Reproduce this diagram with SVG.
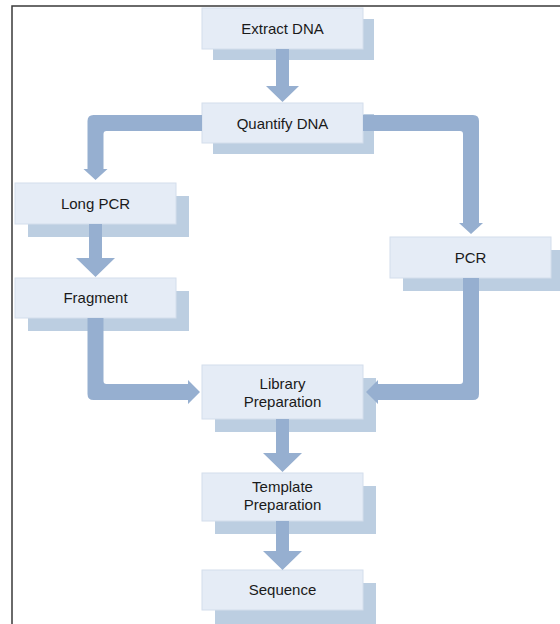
<svg xmlns="http://www.w3.org/2000/svg" width="560" height="624" viewBox="0 0 560 624">
<style>
.box{fill:#e5ecf6;stroke:#d3deec;stroke-width:1}
.sh{fill:#bccee1}
.arr{fill:#96afd0}
.t{font-family:"Liberation Sans",Arial,sans-serif;font-size:15px;fill:#1a1a1a;text-anchor:middle}
.frame{fill:none;stroke:#3a3a3a;stroke-width:1.5}
</style>
<rect width="560" height="624" fill="#ffffff"/>
<path class="frame" d="M12 624 L12 6 L560 6"/>
<g id="n-extract"><rect class="sh" x="213" y="19" width="161" height="41"/><rect class="box" x="202" y="8" width="161" height="41"/><text class="t" x="282.5" y="34">Extract DNA</text></g>
<g id="n-quantify"><rect class="sh" x="213" y="114" width="161" height="40"/><rect class="box" x="202" y="103" width="161" height="40"/><text class="t" x="282.5" y="128.5">Quantify DNA</text></g>
<g id="n-longpcr"><rect class="sh" x="28" y="196" width="161" height="41"/><rect class="box" x="15" y="183" width="161" height="41"/><text class="t" x="95.5" y="208.5">Long PCR</text></g>
<g id="n-fragment"><rect class="sh" x="28" y="291" width="161" height="40"/><rect class="box" x="15" y="278" width="161" height="40"/><text class="t" x="95.5" y="303">Fragment</text></g>
<g id="n-pcr"><rect class="sh" x="403" y="250" width="161" height="41"/><rect class="box" x="390" y="237" width="161" height="41"/><text class="t" x="470.5" y="262.5">PCR</text></g>
<g id="n-library"><rect class="sh" x="215" y="378" width="161" height="54"/><rect class="box" x="202" y="365" width="161" height="54"/><text class="t" x="282.5" y="388.5">Library</text><text class="t" x="282.5" y="406.5">Preparation</text></g>
<g id="n-template"><rect class="sh" x="215" y="486" width="161" height="48"/><rect class="box" x="202" y="473" width="161" height="48"/><text class="t" x="282.5" y="492">Template</text><text class="t" x="282.5" y="510">Preparation</text></g>
<g id="n-sequence"><rect class="sh" x="215" y="583" width="161" height="41"/><rect class="box" x="202" y="570" width="161" height="40"/><text class="t" x="282.5" y="595">Sequence</text></g>
<g id="connectors">
<path class="arr" d="M276 49 L289 49 L289 86 L299 86 L282.5 102 L266 86 L276 86 Z"/>
<path class="arr" d="M202 115 L93.5 115 Q87.5 115 87.5 121 L87.5 169 L83.5 169 L95.5 180 L107.5 169 L103.5 169 L103.5 134 Q103.5 131 106.5 131 L202 131 Z"/>
<path class="arr" d="M363 115 L473 115 Q479 115 479 121 L479 223 L483 223 L471 234 L459 223 L463 223 L463 134 Q463 131 460 131 L363 131 Z"/>
<path class="arr" d="M89 224 L102 224 L102 258 L115 258 L95.5 277 L76 258 L89 258 Z"/>
<path class="arr" d="M87.5 318 L87.5 394 Q87.5 400 93.5 400 L188 400 L188 404 L200 392 L188 380 L188 384 L106.5 384 Q103.5 384 103.5 381 L103.5 318 Z"/>
<path class="arr" d="M479 278 L479 394 Q479 400 473 400 L378 400 L378 404 L366 392 L378 380 L378 384 L460 384 Q463 384 463 381 L463 278 Z"/>
<path class="arr" d="M276 419 L289 419 L289 453 L302 453 L282.5 472 L263 453 L276 453 Z"/>
<path class="arr" d="M276 521 L289 521 L289 551 L302 551 L282.5 570 L263 551 L276 551 Z"/>
</g>
</svg>
